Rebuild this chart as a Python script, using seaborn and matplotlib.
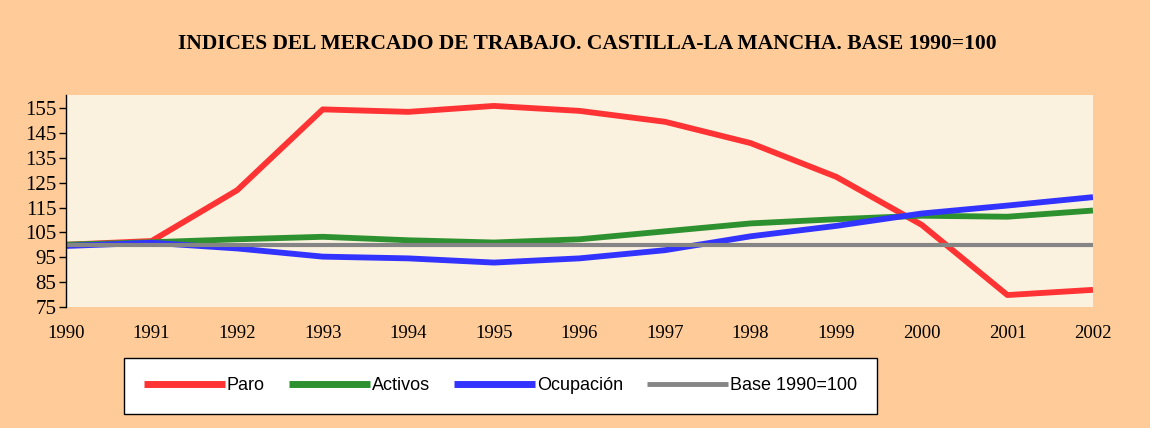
import numpy as np
import matplotlib
matplotlib.use('Agg')
import matplotlib.pyplot as plt
import pandas as pd
import seaborn as sns

# Values
years = [1990, 1991, 1992, 1993, 1994, 1995, 1996, 1997, 1998, 1999, 2000, 2001, 2002]
paro = [100, 101.5, 122, 154.6, 153.6, 156, 154, 149.6, 141, 127.4, 108, 79.7, 81.8]
activos = [100, 101, 102.2, 103.2, 101.8, 100.9, 102.2, 105.4, 108.6, 110.3, 111.7, 111.3, 113.8]
ocupacion = [99.5, 100.8, 98.5, 95.2, 94.5, 92.8, 94.5, 97.8, 103.4, 107.6, 112.6, 115.8, 119.2]
base = [100] * 13

series_names = ['Paro', 'Activos', 'Ocupación', 'Base 1990=100']
colors = ['#FF3333', '#2E9130', '#3333FF', '#858585']

df = pd.DataFrame({
    'year': years * 4,
    'value': paro + activos + ocupacion + base,
    'serie': sum([[n] * len(years) for n in series_names], []),
})

sns.set_style('ticks')
plt.rcParams['font.family'] = ['Liberation Serif', 'DejaVu Serif']
plt.rcParams['text.color'] = 'black'
plt.rcParams['xtick.color'] = 'black'
plt.rcParams['ytick.color'] = 'black'

fig = plt.figure(figsize=(11.5, 4.28), dpi=100)
fig.patch.set_facecolor('#FFCC99')
ax = fig.add_axes([0.0574, 0.2834, 0.893, 0.4946])
ax.set_facecolor('#FBF1DF')

sns.lineplot(data=df, x='year', y='value', hue='serie', hue_order=series_names,
             palette=colors, ax=ax, legend=False, linewidth=4.2)
# base line thinner
for line, lw in zip(ax.get_lines(), [4.2, 4.2, 4.2, 3.0]):
    line.set_linewidth(lw)
    line.set_solid_capstyle('butt')

ax.set_xlim(1990, 2002)
ax.set_ylim(75, 160.4)
ax.set_yticks(np.arange(75, 156, 10))
ax.set_xticks(years)
ax.set_xlabel('')
ax.set_ylabel('')
ax.tick_params(axis='y', labelsize=15, length=5, width=1, color='black',
               labelcolor='black', pad=2)
ax.tick_params(axis='x', labelsize=13.5, length=0, labelcolor='black', pad=13)
for side in ['top', 'right', 'bottom']:
    ax.spines[side].set_visible(False)
ax.spines['left'].set_color('black')
ax.spines['left'].set_linewidth(1)

fig.text(0.511, 0.898, 'INDICES DEL MERCADO DE TRABAJO. CASTILLA-LA MANCHA. BASE 1990=100',
         ha='center', va='center', fontsize=15.5, fontweight='bold', color='black')

handles = [plt.Line2D([], [], color=c, linewidth=lw, solid_capstyle='butt')
           for c, lw in zip(colors, [5, 5, 5, 3.5])]
leg = fig.legend(handles, series_names, ncol=4, loc='center left',
                 bbox_to_anchor=(0.1078, 0.0304, 0.6548, 0.1355), mode='expand',
                 frameon=True, fancybox=False, framealpha=1, handlelength=4.5,
                 handletextpad=0.1, borderpad=1.1, borderaxespad=0,
                 labelcolor='black',
                 prop={'family': 'Liberation Sans', 'size': 13})
leg.get_frame().set_edgecolor('black')
leg.get_frame().set_linewidth(1)
leg.get_frame().set_facecolor('white')

fig.savefig('out.png', dpi=100, facecolor=fig.get_facecolor())
